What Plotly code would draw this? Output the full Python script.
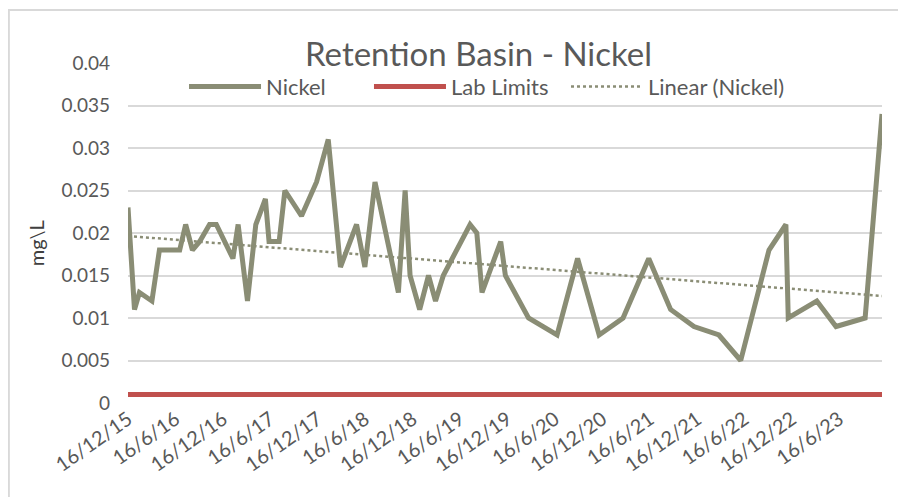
import numpy as np
import pandas as pd
import plotly.graph_objects as go

dates = [
    "2015-12-16", "2016-01-10", "2016-01-29", "2016-03-17", "2016-04-15", "2016-07-02",
    "2016-07-25", "2016-08-20", "2016-09-17", "2016-10-25", "2016-11-20", "2017-01-23",
    "2017-02-12", "2017-03-20", "2017-04-21", "2017-05-28", "2017-06-11", "2017-07-20",
    "2017-08-11", "2017-10-14", "2017-12-11", "2018-01-25", "2018-03-13", "2018-05-14",
    "2018-06-15", "2018-07-24", "2018-10-22", "2018-11-17", "2018-12-06", "2019-01-12",
    "2019-02-15", "2019-03-14", "2019-04-13", "2019-06-04", "2019-07-25", "2019-08-20",
    "2019-09-09", "2019-11-20", "2019-12-08", "2020-03-06", "2020-06-24", "2020-09-11",
    "2020-12-03", "2021-03-05", "2021-06-12", "2021-09-04", "2021-12-03", "2022-03-09",
    "2022-06-01", "2022-09-18", "2022-11-22", "2022-12-01", "2023-03-21", "2023-06-03",
    "2023-09-23", "2023-11-27",
]
nickel = [
    0.023, 0.011, 0.013, 0.012, 0.018, 0.018,
    0.021, 0.018, 0.019, 0.021, 0.021, 0.017,
    0.021, 0.012, 0.021, 0.024, 0.019, 0.019,
    0.025, 0.022, 0.026, 0.031, 0.016, 0.021,
    0.016, 0.026, 0.013, 0.025, 0.015, 0.011,
    0.015, 0.012, 0.015, 0.018, 0.021, 0.020,
    0.013, 0.019, 0.015, 0.010, 0.008, 0.017,
    0.008, 0.010, 0.017, 0.011, 0.009, 0.008,
    0.005, 0.018, 0.021, 0.010, 0.012, 0.009,
    0.010, 0.034,
]
lab_limit = 0.001
tick_dates = [
    "2015-12-16", "2016-06-16", "2016-12-16", "2017-06-16", "2017-12-16", "2018-06-16",
    "2018-12-16", "2019-06-16", "2019-12-16", "2020-06-16", "2020-12-16", "2021-06-16",
    "2021-12-16", "2022-06-16", "2022-12-16", "2023-06-16",
]
tick_labels = [
    "16/12/15", "16/6/16", "16/12/16", "16/6/17", "16/12/17", "16/6/18",
    "16/12/18", "16/6/19", "16/12/19", "16/6/20", "16/12/20", "16/6/21",
    "16/12/21", "16/6/22", "16/12/22", "16/6/23",
]

dt = pd.to_datetime(dates)
days = (dt - dt[0]).days.values.astype(float)
slope, intercept = np.polyfit(days, np.array(nickel), 1)
trend = intercept + slope * days

NICKEL_COLOR = "#8a8d75"
RED = "#c0504d"
TEXT = "#595959"
FONT = "Lato"

fig = go.Figure()
fig.add_trace(go.Scatter(x=dt, y=nickel, mode="lines", name="Nickel", legend="legend",
                         line=dict(color=NICKEL_COLOR, width=5)))
fig.add_trace(go.Scatter(x=dt, y=[lab_limit] * len(dates), mode="lines", name="Lab Limits",
                         legend="legend2", line=dict(color=RED, width=5)))
fig.add_trace(go.Scatter(x=dt, y=trend, mode="lines", name="Linear (Nickel)",
                         legend="legend3",
                         line=dict(color=NICKEL_COLOR, width=2.5, dash="dot")))


def leg(x):
    return dict(orientation="h", x=x, xanchor="left", y=0.93, yanchor="middle",
                font=dict(size=22, color=TEXT, family=FONT), itemwidth=72,
                bgcolor="rgba(0,0,0,0)")


fig.update_layout(
    width=898, height=489,
    margin=dict(l=120, r=24, t=55, b=94, autoexpand=False),
    paper_bgcolor="white", plot_bgcolor="white",
    font=dict(family=FONT, color=TEXT),
    title=dict(text="Retention Basin - Nickel", x=0.524, xanchor="center",
               y=0.905, yanchor="middle", font=dict(size=33, color=TEXT, family=FONT)),
    legend=leg(0.0743),
    legend2=leg(0.3196),
    legend3=leg(0.5809),
    showlegend=True,
    xaxis=dict(type="date", range=[dt[0], dt[-1]], tickvals=pd.to_datetime(tick_dates),
               ticktext=tick_labels, tickangle=-35, showgrid=False, zeroline=False,
               showline=False, ticks="", automargin=False,
               tickfont=dict(size=20, color=TEXT)),
    yaxis=dict(range=[0, 0.04], dtick=0.005, showgrid=True, gridcolor="#d9d9d9",
               gridwidth=2, zeroline=False, showline=False, ticks="", automargin=False,
               ticklabelstandoff=17,
               tickformat="~g", tickfont=dict(size=19, color=TEXT)),
    annotations=[dict(text="mg\\L", xref="paper", yref="paper", x=-0.122, y=0.47,
                      xanchor="center", yanchor="middle", textangle=-90, showarrow=False,
                      font=dict(size=20, color="#404040", family=FONT))],
    shapes=[dict(type="rect", xref="paper", yref="paper", x0=-0.158, x1=1.0279,
                 y0=-0.3, y1=1.156, line=dict(color="#d9d9d9", width=2), layer="below")],
)

fig.write_html("out.html")
